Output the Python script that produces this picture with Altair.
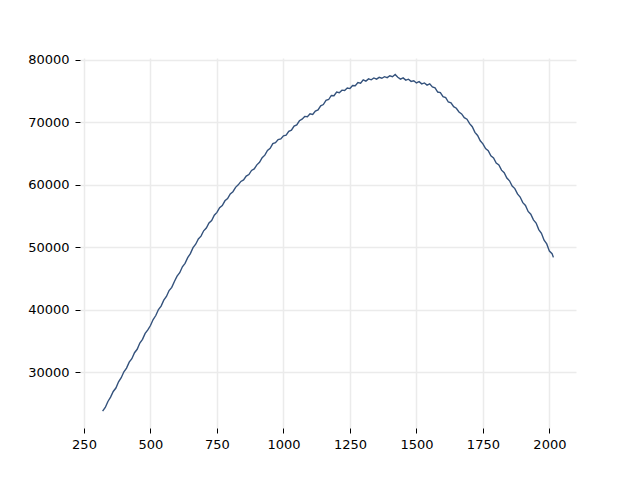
import altair as alt
import pandas as pd

xs = [320, 330, 340, 350, 360, 370, 380, 390, 400,
      410, 420, 430, 440, 450, 460, 470, 480, 490, 500,
      510, 520, 530, 540, 550, 560, 570, 580, 590, 600,
      610, 620, 630, 640, 650, 660, 670, 680, 690, 700,
      710, 720, 730, 740, 750, 760, 770, 780, 790, 800,
      810, 820, 830, 840, 850, 860, 870, 880, 890, 900,
      910, 920, 930, 940, 950, 960, 970, 980, 990, 1000,
      1010, 1020, 1030, 1040, 1050, 1060, 1070, 1080, 1090, 1100,
      1110, 1120, 1130, 1140, 1150, 1160, 1170, 1180, 1190, 1200,
      1210, 1220, 1230, 1240, 1250, 1260, 1270, 1280, 1290, 1300,
      1310, 1320, 1330, 1340, 1350, 1360, 1370, 1380, 1390, 1400,
      1410, 1420, 1430, 1440, 1450, 1460, 1470, 1480, 1490, 1500,
      1510, 1520, 1530, 1540, 1550, 1560, 1570, 1580, 1590, 1600,
      1610, 1620, 1630, 1640, 1650, 1660, 1670, 1680, 1690, 1700,
      1710, 1720, 1730, 1740, 1750, 1760, 1770, 1780, 1790, 1800,
      1810, 1820, 1830, 1840, 1850, 1860, 1870, 1880, 1890, 1900,
      1910, 1920, 1930, 1940, 1950, 1960, 1970, 1980, 1990, 2000,
      2010, 2015]

ys = [23800, 24400, 25350, 26050, 26950, 27500, 28500, 29150, 30100,
      30700, 31650, 32200, 33150, 33700, 34700, 35300, 36250, 36800, 37500,
      38450, 39100, 40050, 40600, 41550, 42150, 43100, 43600, 44550, 45400,
      45950, 46900, 47450, 48350, 49000, 49950, 50500, 51350, 51800, 52650,
      53100, 53900, 54300, 55150, 55600, 56350, 56700, 57450, 57800, 58550,
      58900, 59600, 60000, 60550, 60800, 61400, 61650, 62300, 62550, 63200,
      63600, 64350, 64750, 65500, 65850, 66600, 66750, 67250, 67350, 67850,
      67950, 68550, 68750, 69400, 69600, 70250, 70500, 70950, 70900, 71350,
      71250, 71800, 72000, 72650, 72850, 73500, 73650, 74300, 74250, 74850,
      74750, 75150, 75100, 75500, 75400, 75900, 75850, 76350, 76250, 76800,
      76600, 76950, 76800, 77100, 76900, 77200, 77050, 77300, 77150, 77450,
      77300, 77650, 77200, 76900, 77100, 76750, 76900, 76550, 76650, 76300,
      76500, 76150, 76300, 75950, 76150, 75650, 75500, 74850, 74750, 74100,
      73950, 73250, 73100, 72500, 72250, 71650, 71350, 70750, 70500, 69800,
      69300, 68400, 67900, 67050, 66550, 65800, 65450, 64650, 64300, 63500,
      63200, 62350, 61950, 61100, 60650, 59800, 59400, 58550, 58050, 57150,
      56700, 55750, 55300, 54400, 53900, 52850, 52250, 51150, 50550, 49400,
      49000, 48400]

x_ticks = [250, 500, 750, 1000, 1250, 1500, 1750, 2000]
y_ticks = [30000, 40000, 50000, 60000, 70000, 80000]

df = pd.DataFrame({"x": xs, "y": ys})

axis_common = dict(
    domain=False,
    grid=True,
    gridColor="#ebebeb",
    gridWidth=1.5,
    ticks=True,
    tickColor="#000000",
    tickSize=5,
    tickWidth=1,
    labelFont="DejaVu Sans",
    labelFontSize=13,
    labelColor="#000000",
    title=None,
    format="d",
)

chart = alt.Chart(df).mark_line(color="#34527c", strokeWidth=1.4).encode(
    x=alt.X("x:Q", scale=alt.Scale(domain=[235, 2100], nice=False, zero=False),
            axis=alt.Axis(values=x_ticks, labelPadding=5, **axis_common)),
    y=alt.Y("y:Q", scale=alt.Scale(domain=[21110, 80290], nice=False, zero=False),
            axis=alt.Axis(values=y_ticks, labelPadding=6, **axis_common)),
    order="x:Q",
).properties(
    width=496,
    height=370,
    background="white",
    autosize=alt.AutoSizeParams(type="none"),
    padding={"left": 72, "top": 50, "right": 56, "bottom": 45},
).configure_view(stroke=None)

chart.save("out.html", embed_options={"renderer": "svg", "actions": False})
